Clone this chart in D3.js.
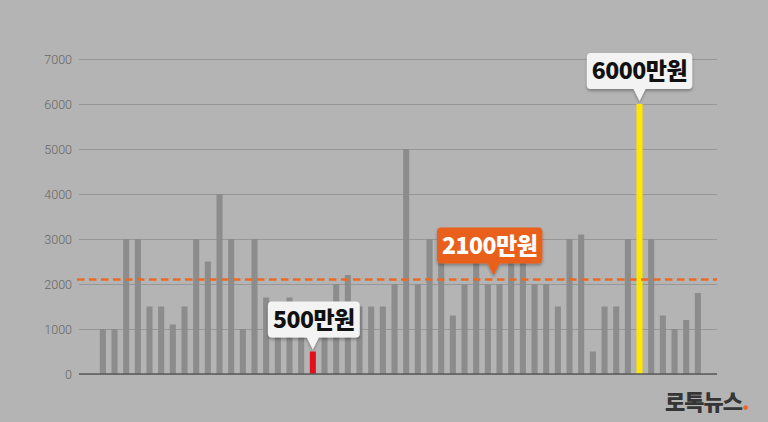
<!DOCTYPE html>
<html>
<head>
<meta charset="utf-8">
<script src="https://cdn.jsdelivr.net/npm/d3@7"></script>
<style>
  body { margin: 0; background: #b4b4b4; }
  svg { display: block; }
  .tick text { font-family: Roboto, "Noto Sans", sans-serif; font-weight: 300; }
</style>
</head>
<body>
<div class="viz"></div>
<script>
// one bar per case, amounts in 만원
const values = [1000, 1000, 3000, 3000, 1500, 1500, 1100, 1500, 3000, 2500,
  4000, 3000, 1000, 3000, 1700, 1500, 1700, 1200, 500, 1500,
  2000, 2200, 1500, 1500, 1500, 2000, 5000, 2000, 3000, 2500,
  1300, 2000, 2500, 2000, 2000, 2500, 2500, 2000, 2000, 1500,
  3000, 3100, 500, 1500, 1500, 3000, 6000, 3000, 1300, 1000,
  1200, 1800];
const yTicks = [0, 1000, 2000, 3000, 4000, 5000, 6000, 7000];
const average = 2100;
const minIndex = 18;   // red bar
const maxIndex = 46;   // yellow bar
const avgLabelIndex = 33.5;
const labelMin = "500만원";
const labelMax = "6000만원";
const labelAvg = "2100만원";
const brand = "로톡뉴스";

const width = 768, height = 422;
const plot = { left: 79, right: 717, top: 59, bottom: 374 };

const svg = d3.select(".viz").append("svg")
  .attr("width", width)
  .attr("height", height);

svg.append("rect").attr("width", width).attr("height", height).attr("fill", "#b4b4b4");

const defs = svg.append("defs");
const shadow = defs.append("filter").attr("id", "shadow")
  .attr("x", "-20%").attr("y", "-20%").attr("width", "140%").attr("height", "160%");
shadow.append("feDropShadow")
  .attr("dx", 0).attr("dy", 2).attr("stdDeviation", 1.5)
  .attr("flood-color", "#000").attr("flood-opacity", 0.3);

const x = d3.scaleBand()
  .domain(d3.range(values.length))
  .range([97, 703.7])
  .paddingInner(0.48)
  .paddingOuter(0.24);

const y = d3.scaleLinear()
  .domain([0, 7000])
  .range([plot.bottom, plot.top]);

// y axis with gridlines
const yaxis = d3.axisLeft(y)
  .tickValues(yTicks)
  .tickSize(-(plot.right - plot.left))
  .tickPadding(7)
  .tickFormat(d3.format("d"));

const gy = svg.append("g")
  .attr("transform", "translate(" + plot.left + ",0)")
  .call(yaxis);
gy.select(".domain").remove();
gy.selectAll(".tick line").attr("stroke", "#979797").attr("stroke-width", 1);
gy.selectAll(".tick text").attr("fill", "#666").attr("font-size", 12.5);

// bars
svg.append("g")
  .selectAll("rect")
  .data(values)
  .enter()
  .append("rect")
  .attr("x", (d, i) => x(i))
  .attr("y", d => y(d))
  .attr("width", x.bandwidth())
  .attr("height", d => y(0) - y(d))
  .attr("fill", (d, i) => i === minIndex ? "#e3101b" : i === maxIndex ? "#ffe500" : "#8c8c8c");

// baseline
svg.append("line")
  .attr("x1", plot.left).attr("x2", plot.right)
  .attr("y1", y(0)).attr("y2", y(0))
  .attr("stroke", "#5a5a5a").attr("stroke-width", 1.5);

// average line
svg.append("line")
  .attr("x1", 77).attr("x2", plot.right)
  .attr("y1", y(average)).attr("y2", y(average))
  .attr("stroke", "#ea6a25").attr("stroke-width", 2.5)
  .attr("stroke-dasharray", "7.5,4.5");

// callout: tip at (tx, ty), box above it
function callout(tx, ty, text, fill, color, boxShift) {
  const g = svg.append("g");
  const t = g.append("text")
    .attr("font-family", "'Noto Sans CJK KR', 'Noto Sans', sans-serif")
    .attr("font-weight", 900)
    .attr("font-size", 23)
    .attr("letter-spacing", -0.5)
    .attr("text-anchor", "middle")
    .attr("fill", color)
    .text(text);
  const tw = t.node().getComputedTextLength();
  const bw = tw + 10, bh = 36, ph = 12, pw = 6, r = 4;
  const cx = tx + boxShift;
  const bottom = ty - ph, top = bottom - bh;
  const left = cx - bw / 2, right = cx + bw / 2;
  const path = "M" + (left + r) + "," + top +
    " H" + (right - r) + " Q" + right + "," + top + " " + right + "," + (top + r) +
    " V" + (bottom - r) + " Q" + right + "," + bottom + " " + (right - r) + "," + bottom +
    " H" + (tx + pw) + " L" + tx + "," + ty + " L" + (tx - pw) + "," + bottom +
    " H" + (left + r) + " Q" + left + "," + bottom + " " + left + "," + (bottom - r) +
    " V" + (top + r) + " Q" + left + "," + top + " " + (left + r) + "," + top + " Z";
  g.insert("path", "text")
    .attr("d", path)
    .attr("fill", fill)
    .attr("filter", "url(#shadow)");
  t.attr("x", cx).attr("y", top + bh / 2 + 8);
}

const half = x.bandwidth() / 2;
callout(x(minIndex) + half, y(values[minIndex]) - 2, labelMin, "#f3f3f3", "#111", 1);
callout(x(maxIndex) + half, y(values[maxIndex]) - 3, labelMax, "#f3f3f3", "#111", 0);
callout(x(Math.floor(avgLabelIndex)) + half + x.step() * (avgLabelIndex % 1), y(average) - 4,
  labelAvg, "#e8611d", "#fff", -4);

// brand
const logo = svg.append("text")
  .attr("x", 665).attr("y", 410)
  .attr("font-family", "'Noto Sans CJK KR', sans-serif")
  .attr("font-weight", 900)
  .attr("font-size", 22)
  .attr("letter-spacing", -1)
  .attr("fill", "#353535");
logo.append("tspan").text(brand);
logo.append("tspan").attr("fill", "#ee6a22").text(".");
</script>
</body>
</html>
